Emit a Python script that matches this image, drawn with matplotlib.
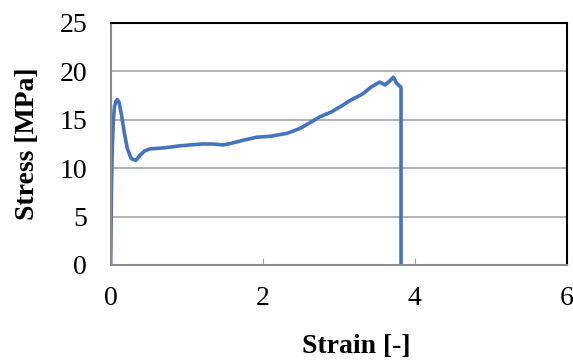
import numpy as np
import matplotlib
matplotlib.use('Agg')
import matplotlib.pyplot as plt

# stress-strain curve
strain = [0.0, 0.005, 0.01, 0.02, 0.035, 0.05, 0.07, 0.087, 0.11, 0.14, 0.18, 0.22,
          0.27, 0.33, 0.38, 0.45, 0.52, 0.7, 0.9, 1.04, 1.2, 1.35, 1.48, 1.6,
          1.75, 1.92, 2.1, 2.32, 2.49, 2.6, 2.75, 2.9, 3.02, 3.15, 3.25, 3.32,
          3.43, 3.54, 3.61, 3.67, 3.72, 3.76, 3.8, 3.815, 3.82, 3.82]
stress = [0.0, 4.0, 8.0, 12.0, 15.0, 16.4, 16.9, 17.1, 16.8, 15.6, 13.6, 12.0,
          11.0, 10.8, 11.3, 11.8, 12.0, 12.1, 12.3, 12.4, 12.5, 12.5, 12.4, 12.6,
          12.9, 13.2, 13.3, 13.6, 14.1, 14.6, 15.3, 15.8, 16.35, 17.0, 17.4, 17.7,
          18.4, 18.9, 18.6, 19.0, 19.4, 18.8, 18.5, 18.4, 18.3, 0.0]

xticks = [0, 2, 4, 6]
yticks = [0, 5, 10, 15, 20, 25]

plt.rcParams['font.family'] = ['Liberation Serif', 'DejaVu Serif']

fig = plt.figure(figsize=(5.73, 3.6), dpi=100)
ax = fig.add_axes([110.7 / 573, 1 - 265 / 360, 456 / 573, 242 / 360])

ax.plot(strain, stress, color='#4472C4', lw=2.6, solid_joinstyle='round')

ax.set_xlim(0, 6)
ax.set_ylim(0, 25)
ax.set_xticks(xticks)
ax.set_yticks(yticks)
ax.yaxis.grid(True, color='#A6A6A6', lw=1.2)
ax.set_axisbelow(True)

ax.tick_params(axis='x', direction='in', length=5, color='#A6A6A6', pad=15, labelsize=20)
ax.tick_params(axis='y', length=0, pad=17, labelsize=20)

for side in ('left', 'bottom'):
    ax.spines[side].set_color('#8C8C8C')
    ax.spines[side].set_linewidth(1.5)
for side in ('top', 'right'):
    ax.spines[side].set_color('black')
    ax.spines[side].set_linewidth(1.5)

ax.set_xlabel('Strain [-]', fontsize=20, fontweight='bold', labelpad=17)
ax.set_ylabel('Stress [MPa]', fontsize=20, fontweight='bold', labelpad=14)
# label sits a bit right of centre in the original
ax.xaxis.label.set_x(0.538)

fig.savefig('out.png', dpi=100)
